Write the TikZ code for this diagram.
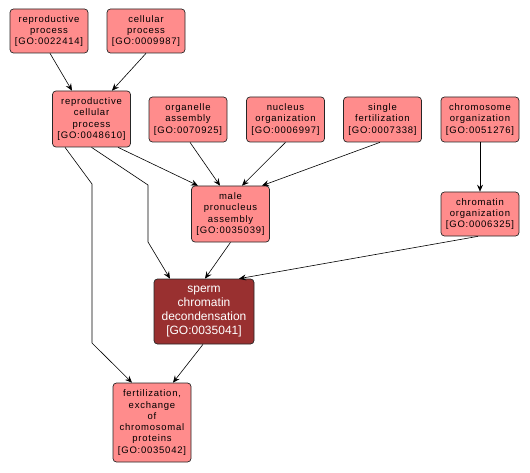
\documentclass[tikz,border=0pt]{standalone}
\usepackage{fontspec}
\setmainfont{Liberation Sans}
\usetikzlibrary{arrows.meta}

\definecolor{termfill}{RGB}{255,140,140}
\definecolor{hitfill}{RGB}{153,48,48}

\begin{document}
\begin{tikzpicture}[x=1pt,y=-1pt,
        term/.style={draw=black!85,fill=termfill,rounded corners=3.5pt,line width=0.7pt,
            minimum width=78pt,inner sep=1pt,align=center,
            font=\fontsize{9.5}{11.3}\selectfont\addfontfeature{LetterSpace=8}},
        hit/.style={term,fill=hitfill,text=white,minimum width=100pt,
            font=\fontsize{12}{14}\selectfont},
        isa/.style={-{Stealth[length=7pt,width=6pt,inset=2.5pt]},line width=0.6pt}]
        \useasboundingbox (0,0) rectangle (530,473);

        \node[term,minimum height=44pt] (RP)  at (49,31)    {reproductive\\process\\{[GO:0022414]}};
        \node[term,minimum height=44pt] (CP)  at (146,31)   {cellular\\process\\{[GO:0009987]}};
        \node[term,minimum height=56pt] (RCP) at (91.5,119) {reproductive\\cellular\\process\\{[GO:0048610]}};
        \node[term,minimum height=45pt] (OA)  at (188,119.5)   {organelle\\assembly\\{[GO:0070925]}};
        \node[term,minimum height=45pt] (NO)  at (285.5,119.5) {nucleus\\organization\\{[GO:0006997]}};
        \node[term,minimum height=45pt] (SF)  at (382.5,119.5) {single\\fertilization\\{[GO:0007338]}};
        \node[term,minimum height=45pt] (CO)  at (480,119.5)   {chromosome\\organization\\{[GO:0051276]}};
        \node[term,minimum height=56pt] (MPA) at (230.5,214) {male\\pronucleus\\assembly\\{[GO:0035039]}};
        \node[term,minimum height=44pt] (CHO) at (480,214)   {chromatin\\organization\\{[GO:0006325]}};
        \node[hit,minimum height=65pt]  (SCD) at (204,311.5) {sperm\\chromatin\\decondensation\\{[GO:0035041]}};
        \node[term,minimum height=79pt] (FEP) at (152,422.5) {fertilization,\\exchange\\of\\chromosomal\\proteins\\{[GO:0035042]}};

        % bends of the long edges
        \coordinate (b1) at (92,184);
        \coordinate (b2) at (92,343);
        \coordinate (b3) at (148,185);
        \coordinate (b4) at (148,242);

        \draw[isa] ([xshift=1pt]RP.south) -- ([xshift=-19.5pt]RCP.north);
        \draw[isa] (CP.south) -- ([xshift=20.5pt]RCP.north);
        \draw[isa] ([xshift=26.5pt]RCP.south) -- ([xshift=-32.5pt]MPA.north);
        \draw[isa] (RCP.south) -- (b3) -- (b4) -- ([xshift=-34pt]SCD.north);
        \draw[isa] ([xshift=-26.5pt]RCP.south) -- (b1) -- (b2) -- ([xshift=-20pt]FEP.north);
        \draw[isa] ([xshift=2pt]OA.south) -- ([xshift=-10.5pt]MPA.north);
        \draw[isa] (NO.south) -- ([xshift=11.5pt]MPA.north);
        \draw[isa] ([xshift=-2.5pt]SF.south) -- ([xshift=31.5pt]MPA.north);
        \draw[isa] (CO) -- (CHO);
        \draw[isa] ([xshift=-2pt]CHO.south) -- ([xshift=35pt]SCD.north);
        \draw[isa] (MPA.south) -- ([xshift=1pt]SCD.north);
        \draw[isa] ([xshift=-1pt]SCD.south) -- ([xshift=21pt]FEP.north);
    \end{tikzpicture}
\end{document}
